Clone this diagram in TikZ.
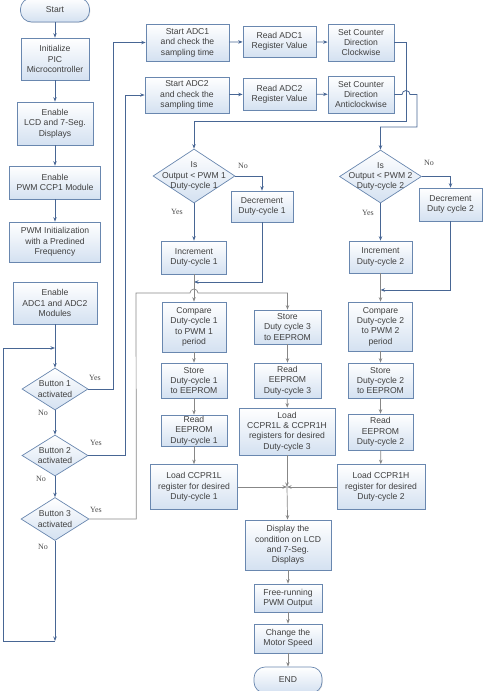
\documentclass[tikz,border=0pt]{standalone}
\usepackage{fontspec}
\setmainfont{Liberation Sans}
\newfontfamily\labelfont{Liberation Serif}
\usetikzlibrary{arrows.meta, shapes.geometric, shadows}

\definecolor{boxline}{RGB}{105,135,175}
\definecolor{boxfill}{RGB}{212,225,241}
\definecolor{flowline}{RGB}{72,102,148}
\definecolor{flowgray}{RGB}{135,135,135}

\begin{document}
\begin{tikzpicture}[x=1pt, y=-1pt, >={Stealth[length=4.5pt, width=3.5pt]},
    txt/.style={font=\fontsize{8.6}{10.4}\selectfont, text=black!75, align=center},
    box/.style={txt, draw=boxline, line width=0.7pt, top color=white, bottom color=boxfill,
        inner sep=0pt, drop shadow={opacity=0.18, shadow xshift=0.8pt, shadow yshift=-0.8pt}},
    terminal/.style={box, rounded corners=11pt},
    decision/.style={diamond, draw=boxline, line width=0.7pt, top color=white, bottom color=boxfill, inner sep=0pt},
    yesno/.style={font=\labelfont\fontsize{8}{9}\selectfont, text=black!70},
    link/.style={flowline, line width=0.8pt},
    glink/.style={flowgray, line width=0.7pt}]

    \useasboundingbox (0,0) rectangle (483,691);

    % ==========================================
    % LEFT COLUMN: start-up and button checks
    % ==========================================
    \node[terminal, minimum width=69, minimum height=24] (start) at (55,10) {Start};
    \node[box, minimum width=68, minimum height=42] (init) at (55,59) {Initialize\\PIC\\Microcontroller};
    \node[box, minimum width=76, minimum height=43] (lcd) at (55,123.5) {Enable\\LCD and 7-Seg.\\Displays};
    \node[box, minimum width=91, minimum height=33] (ccp) at (55,182.5) {Enable\\PWM CCP1 Module};
    \node[box, minimum width=91, minimum height=40] (pwminit) at (55,242) {PWM Initialization\\with a Predined\\Frequency};
    \node[box, minimum width=84, minimum height=42] (adcen) at (55,303) {Enable\\ADC1 and ADC2\\Modules};

    \node[decision, minimum width=66, minimum height=42,
        label={[txt]center:{Button 1\\activated}}] (btnone) at (55,389) {};
    \node[decision, minimum width=66, minimum height=41,
        label={[txt]center:{Button 2\\activated}}] (btntwo) at (55,455.5) {};
    \node[decision, minimum width=68, minimum height=43,
        label={[txt]center:{Button 3\\activated}}] (btnthree) at (55,519) {};

    \node[yesno] (yesone) at (95,378) {Yes};
    \node[yesno] (noone) at (43,413) {No};
    \node[yesno] (yestwo) at (96,443) {Yes};
    \node[yesno] (notwo) at (41,479) {No};
    \node[yesno] (yesthree) at (96,510) {Yes};
    \node[yesno] (nothree) at (43,547) {No};

    \coordinate (loopin) at (55,348);
    \coordinate (loopbot) at (55,641);

    \draw[link, ->] (start) -- (init);
    \draw[link, ->] (init) -- (lcd);
    \draw[link, ->] (lcd) -- (ccp);
    \draw[link, ->] (ccp) -- (pwminit);
    \draw[link, ->] (adcen) -- (btnone);
    \draw[link, ->] (btnone) -- (btntwo);
    \draw[link, ->] (btntwo) -- (btnthree);
    \draw[link, ->] (btnthree) -- (loopbot);
    \draw[link, ->] (loopbot) -- ++(-52,0) |- (loopin);

    % ==========================================
    % TOP ROWS: ADC reading and direction
    % ==========================================
    \node[box, minimum width=83, minimum height=37] (adcone) at (187.5,42.5) {Start ADC1\\and check the\\sampling time};
    \node[box, minimum width=73, minimum height=31] (readone) at (279.5,41.5) {Read ADC1\\Register Value};
    \node[box, minimum width=66, minimum height=37] (cw) at (361,42.5) {Set Counter\\Direction\\Clockwise};

    \node[box, minimum width=84, minimum height=36] (adctwo) at (187,95) {Start ADC2\\and check the\\sampling time};
    \node[box, minimum width=73, minimum height=32] (readtwo) at (279.5,94) {Read ADC2\\Register Value};
    \node[box, minimum width=66, minimum height=37] (acw) at (361,94.5) {Set Counter\\Direction\\Anticlockwise};

    \draw[link, ->] (btnone.east) -- ++(25,0) |- (adcone.west);
    \draw[link, ->] (btntwo.east) -- ++(37,0) |- (adctwo.west);
    \draw[link, ->] (adcone) -- (readone);
    \draw[link, ->] (readone) -- (cw);
    \draw[link, ->] (adctwo) -- (readtwo);
    \draw[link, ->] (readtwo) -- (acw);

    % ==========================================
    % DUTY-CYCLE 1 BRANCH
    % ==========================================
    \node[decision, minimum width=82, minimum height=54,
        label={[txt]center:{Is\\Output < PWM 1\\Duty-cycle 1}}] (isone) at (194,176) {};
    \node[box, minimum width=62, minimum height=31] (decone) at (262,206.5) {Decrement\\Duty-cycle 1};
    \node[box, minimum width=65, minimum height=33] (incone) at (194,257.5) {Increment\\Duty-cycle 1};
    \node[yesno] (noisone) at (243,166) {No};
    \node[yesno] (yesisone) at (177,212) {Yes};

    \node[box, minimum width=64, minimum height=50] (cmpone) at (194,327) {Compare\\Duty-cycle 1\\to PWM 1\\period};
    \node[box, minimum width=66, minimum height=35] (storeone) at (194,380.5) {Store\\Duty-cycle 1\\to EEPROM};
    \node[box, minimum width=66, minimum height=31] (eeone) at (194,430.5) {Read\\EEPROM\\Duty-cycle 1};
    \node[box, minimum width=87, minimum height=45] (loadone) at (194,487) {Load CCPR1L\\register for desired\\Duty-cycle 1};

    \coordinate (mergeone) at (194,282);

    \draw[link, ->] (cw.east) -- (406,42.5) -- (406,121) -| (isone.north);
    \draw[link, ->] (isone.east) -| (decone.north);
    \draw[link, ->] (isone) -- (incone);
    \draw[link, ->] (decone.south) |- (mergeone);
    \draw[glink, ->] (incone) -- (cmpone);
    \draw[glink, ->] (cmpone) -- (storeone);
    \draw[glink, ->] (storeone) -- (eeone);
    \draw[glink, ->] (eeone) -- (loadone);

    % ==========================================
    % DUTY-CYCLE 3 (both registers)
    % ==========================================
    \node[box, minimum width=67, minimum height=34] (storethree) at (287.5,327) {Store\\Duty cycle 3\\to EEPROM};
    \node[box, minimum width=67, minimum height=35] (eethree) at (287.5,380.5) {Read\\EEPROM\\Duty-cycle 3};
    \node[box, minimum width=96, minimum height=47] (loadthree) at (287,431.5) {Load\\CCPR1L \& CCPR1H\\registers for desired\\Duty-cycle 3};

    % Button 3 line hops over the duty-cycle 1 column
    \draw[glink, ->] (btnthree.east) -- ++(47,0) -- (136,293) -- (190,293)
        arc[start angle=180, end angle=0, radius=4pt] -| (storethree.north);
    \draw[glink, ->] (storethree) -- (eethree);
    \draw[glink, ->] (eethree) -- (loadthree);

    % ==========================================
    % DUTY-CYCLE 2 BRANCH
    % ==========================================
    \node[decision, minimum width=82, minimum height=53,
        label={[txt]center:{Is\\Output < PWM 2\\Duty-cycle 2}}] (istwo) at (380.5,176.5) {};
    \node[box, minimum width=63, minimum height=33] (dectwo) at (450.5,204.5) {Decrement\\Duty cycle 2};
    \node[box, minimum width=63, minimum height=32] (inctwo) at (380.5,257) {Increment\\Duty-cycle 2};
    \node[yesno] (noistwo) at (429,163) {No};
    \node[yesno] (yesistwo) at (368,213) {Yes};

    \node[box, minimum width=64, minimum height=49] (cmptwo) at (380.5,326.5) {Compare\\Duty-cycle 2\\to PWM 2\\period};
    \node[box, minimum width=65, minimum height=35] (storetwo) at (380.5,380.5) {Store\\Duty-cycle 2\\to EEPROM};
    \node[box, minimum width=65, minimum height=36] (eetwo) at (380.5,432) {Read\\EEPROM\\Duty-cycle 2};
    \node[box, minimum width=88, minimum height=45] (loadtwo) at (381,487) {Load CCPR1H\\register for desired\\Duty-cycle 2};

    \coordinate (mergetwo) at (380.5,290);

    % Anticlockwise line hops over the clockwise line
    \draw[link, ->] (acw.east) -- (402,94.5)
        arc[start angle=180, end angle=0, radius=4pt] -- (417,94.5) -- (417,127) -| (istwo.north);
    \draw[link, ->] (istwo.east) -| (dectwo.north);
    \draw[link, ->] (istwo) -- (inctwo);
    \draw[link, ->] (dectwo.south) |- (mergetwo);
    \draw[glink, ->] (inctwo) -- (cmptwo);
    \draw[glink, ->] (cmptwo) -- (storetwo);
    \draw[glink, ->] (storetwo) -- (eetwo);
    \draw[glink, ->] (eetwo) -- (loadtwo);

    % ==========================================
    % COMMON OUTPUT
    % ==========================================
    \coordinate (merge) at (287,487);

    \node[box, minimum width=86, minimum height=50] (display) at (288,545) {Display the\\condition on LCD\\and 7-Seg.\\Displays};
    \node[box, minimum width=68, minimum height=28] (freerun) at (288,598) {Free-running\\PWM Output};
    \node[box, minimum width=68, minimum height=29] (motor) at (288,638.5) {Change the\\Motor Speed};
    \node[terminal, minimum width=68, minimum height=26] (finish) at (288,680) {END};

    \draw[glink, ->] (loadone) -- (merge);
    \draw[glink, ->] (loadtwo) -- (merge);
    \draw[glink, ->] (loadthree) -- (merge);
    \draw[glink, ->] (merge) -- (display);
    \draw[glink, ->] (display) -- (freerun);
    \draw[glink, ->] (freerun) -- (motor);
    \draw[glink, ->] (motor) -- (finish);

\end{tikzpicture}
\end{document}
